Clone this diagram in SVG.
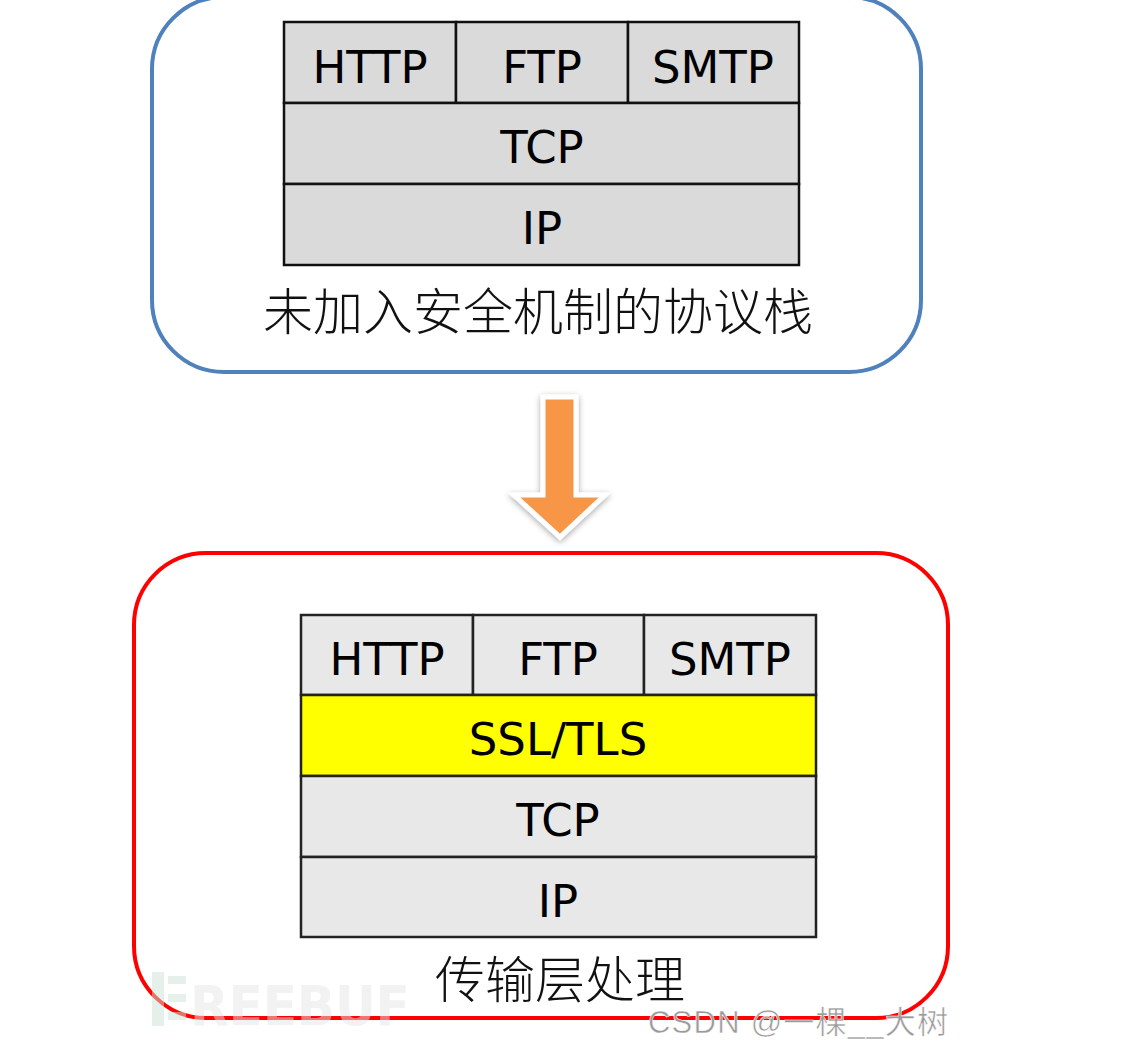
<svg xmlns="http://www.w3.org/2000/svg" width="1141" height="1051" viewBox="0 0 1141 1051">
<defs>
<style>
.lbl{font-family:"DejaVu Sans","Verdana",sans-serif;font-size:45px;fill:#000;text-anchor:middle}
.cjk{font-family:"Noto Sans CJK SC","Noto Sans",sans-serif;font-size:50px;font-weight:300;fill:#111;text-anchor:middle}
.c1{fill:#dadada;stroke:#111;stroke-width:2.5}
.c2{fill:#e8e8e8;stroke:#222;stroke-width:2.5}
</style>
<filter id="sh" x="-30%" y="-20%" width="160%" height="150%">
<feGaussianBlur in="SourceAlpha" stdDeviation="3"/>
<feOffset dx="0" dy="2" result="b"/>
<feComponentTransfer><feFuncA type="linear" slope="0.35"/></feComponentTransfer>
<feMerge><feMergeNode/><feMergeNode in="SourceGraphic"/></feMerge>
</filter>
</defs>
<rect width="1141" height="1051" fill="#fff"/>
<g id="top-box">
<rect x="152" y="-3" width="769" height="375" rx="72" fill="none" stroke="#4f81bd" stroke-width="4"/>
<rect class="c1" x="284" y="22" width="172" height="81"/>
<rect class="c1" x="456" y="22" width="172" height="81"/>
<rect class="c1" x="628" y="22" width="171" height="81"/>
<rect class="c1" x="284" y="103" width="515" height="81"/>
<rect class="c1" x="284" y="184" width="515" height="81"/>
<text class="lbl" x="370" y="83">HTTP</text>
<text class="lbl" x="542" y="83">FTP</text>
<text class="lbl" x="713" y="83">SMTP</text>
<text class="lbl" x="542" y="163">TCP</text>
<text class="lbl" x="542" y="244">IP</text>
<text class="cjk" x="538" y="330">未加入安全机制的协议栈</text>
</g>
<g id="connectors">
<path d="M543,397 H576 V495 H605 L560,537 L514,495 H543 Z" fill="#f79646" stroke="#fff" stroke-width="5" stroke-linejoin="miter" filter="url(#sh)"/>
</g>
<g id="bottom-box">
<rect x="134" y="553" width="814" height="465" rx="72" fill="none" stroke="#ff0000" stroke-width="4"/>
<rect class="c2" x="301" y="615" width="172" height="80"/>
<rect class="c2" x="473" y="615" width="171" height="80"/>
<rect class="c2" x="644" y="615" width="172" height="80"/>
<rect x="301" y="695" width="515" height="81" fill="#ffff00" stroke="#222" stroke-width="2.5"/>
<rect class="c2" x="301" y="776" width="515" height="81"/>
<rect class="c2" x="301" y="857" width="515" height="80"/>
<text class="lbl" x="387" y="675">HTTP</text>
<text class="lbl" x="558" y="755">SSL/TLS</text>
<text class="lbl" x="558" y="675">FTP</text>
<text class="lbl" x="730" y="675">SMTP</text>
<text class="lbl" x="558" y="836">TCP</text>
<text class="lbl" x="558" y="917">IP</text>
<text class="cjk" x="560" y="998">传输层处理</text>
</g>
<g id="watermarks" opacity="0.5">
<rect x="152" y="972" width="12" height="54" fill="#cfe3d8"/>
<rect x="168" y="976" width="18" height="8" fill="#cfe3d8"/>
<rect x="168" y="994" width="18" height="8" fill="#cfe3d8"/>
<rect x="168" y="1012" width="18" height="8" fill="#cfe3d8"/>
<text x="190" y="1025" font-family="'DejaVu Sans Condensed','DejaVu Sans',sans-serif" font-weight="bold" font-size="56" fill="#e6e6e6" textLength="220">REEBUF</text>
</g>
<text x="648" y="1033" font-family="'Liberation Sans','Noto Sans CJK SC',sans-serif" font-size="31" fill="#9a9a9a" stroke="#fff" stroke-width="0.5" textLength="300">CSDN @一棵__大树</text>
</svg>
